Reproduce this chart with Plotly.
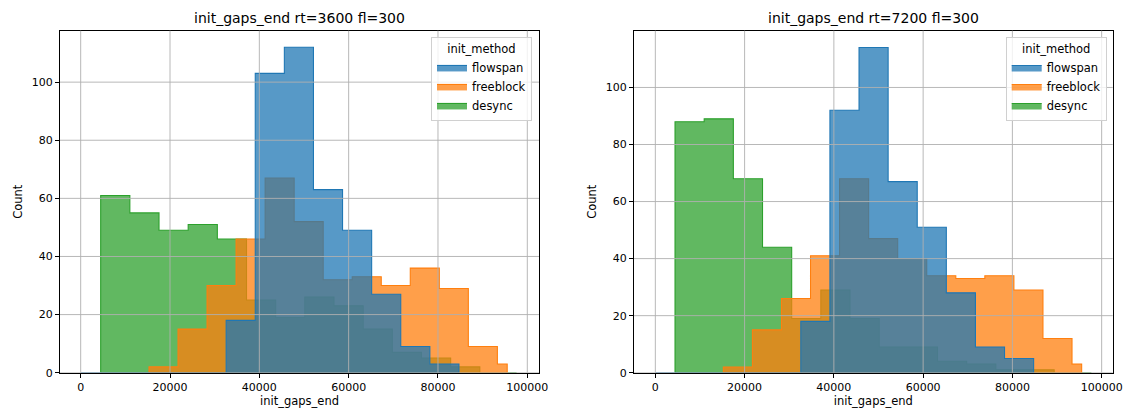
import plotly.graph_objects as go

# ---- histogram bins (left edges + final right edge) and counts per init_method ----
# rt=3600 fl=300
flowspan_3600_edges = [0, 6515, 13030, 19545, 26060, 32575, 39090, 45605, 52120,
                       58635, 65150, 71665, 78180, 84695]
flowspan_3600_counts = [0, 0, 0, 0, 0, 18, 103, 112, 63, 49, 27, 9, 3]

freeblock_3600_edges = [15300, 21800, 28300, 34800, 41300, 47800, 54300, 60800,
                        67300, 73800, 80300, 86800, 93300, 95500]
freeblock_3600_counts = [2, 15, 30, 46, 67, 52, 32, 33, 30, 36, 29, 9, 3]

desync_3600_edges = [4480, 11010, 17540, 24070, 30600, 37130, 43660, 50190, 56720,
                     63250, 69780, 76310, 82840, 89370, 95900, 97600]
desync_3600_counts = [61, 55, 49, 51, 46, 25, 19, 26, 23, 15, 7, 5, 2, 0, 0]

# rt=7200 fl=300
flowspan_7200_edges = [0, 6520, 13040, 19560, 26080, 32600, 39120, 45640, 52160,
                       58680, 65200, 71720, 78240, 84760]
flowspan_7200_counts = [0, 0, 0, 0, 0, 18, 92, 114, 67, 51, 28, 9, 5]

freeblock_7200_edges = [15240, 21750, 28260, 34770, 41280, 47790, 54300, 60810,
                        67320, 73830, 80340, 86850, 93360, 95520]
freeblock_7200_counts = [2, 15, 26, 41, 68, 47, 40, 34, 33, 34, 29, 12, 3]

desync_7200_edges = [4410, 10945, 17480, 24015, 30550, 37085, 43620, 50155, 56690,
                     63225, 69760, 76295, 82830, 89365, 95900, 97700]
desync_7200_counts = [88, 89, 68, 44, 19, 29, 19, 9, 9, 4, 3, 1, 1, 0, 0]

methods = ["flowspan", "freeblock", "desync"]
colors = {"flowspan": (31, 119, 180), "freeblock": (255, 127, 14), "desync": (44, 160, 44)}

panels = [
    {"title": "init_gaps_end rt=3600 fl=300",
     "data": {"flowspan": (flowspan_3600_edges, flowspan_3600_counts),
              "freeblock": (freeblock_3600_edges, freeblock_3600_counts),
              "desync": (desync_3600_edges, desync_3600_counts)}},
    {"title": "init_gaps_end rt=7200 fl=300",
     "data": {"flowspan": (flowspan_7200_edges, flowspan_7200_counts),
              "freeblock": (freeblock_7200_edges, freeblock_7200_counts),
              "desync": (desync_7200_edges, desync_7200_counts)}},
]

x_ticks = [0, 20000, 40000, 60000, 80000, 100000]
y_ticks = [0, 20, 40, 60, 80, 100]

W, H = 1129, 412
x_domains = [[60 / W, 539 / W], [634 / W, 1112.7 / W]]
y_domain = [1 - 372.7 / H, 1 - 30.7 / H]
x_ranges = [[-4630, 102620], [-4780, 102475]]
y_ranges = [[0, 117.7], [0, 119.9]]


def step_outline(edges, counts):
    """Closed step polygon of a histogram, including the baseline."""
    xs, ys = [edges[0]], [0]
    for i, c in enumerate(counts):
        xs += [edges[i], edges[i + 1]]
        ys += [c, c]
    xs += [edges[-1], edges[0]]
    ys += [0, 0]
    return xs, ys


fig = go.Figure()
shapes, annotations = [], []
font = "DejaVu Sans"

for p, panel in enumerate(panels):
    xa = "x" if p == 0 else "x2"
    ya = "y" if p == 0 else "y2"
    leg = "legend" if p == 0 else "legend2"
    # draw desync first so flowspan ends up on top
    for rank, m in reversed(list(enumerate(methods))):
        edges, counts = panel["data"][m]
        xs, ys = step_outline(edges, counts)
        r, g, b = colors[m]
        fig.add_trace(go.Scatter(
            x=xs, y=ys, mode="lines", fill="toself",
            fillcolor=f"rgba({r},{g},{b},0.75)",
            line=dict(color=f"rgb({r},{g},{b})", width=1.1),
            name=m, legend=leg, legendrank=rank + 1,
            xaxis=xa, yaxis=ya, hoverinfo="skip",
        ))

    # grid drawn over the filled steps
    for xv in x_ticks:
        shapes.append(dict(type="line", xref=xa, yref=f"{ya} domain",
                           x0=xv, x1=xv, y0=0, y1=1, layer="above",
                           line=dict(color="#b0b0b0", width=0.9)))
    for yv in y_ticks:
        shapes.append(dict(type="line", xref=f"{xa} domain", yref=ya,
                           x0=0, x1=1, y0=yv, y1=yv, layer="above",
                           line=dict(color="#b0b0b0", width=0.9)))

    cx = (x_domains[p][0] + x_domains[p][1]) / 2
    annotations.append(dict(text=panel["title"], xref="paper", yref="paper",
                            x=cx, y=1 - 18 / H, xanchor="center", yanchor="middle",
                            showarrow=False, font=dict(family=font, size=14, color="black")))

axis_common = dict(showline=True, mirror=True, linecolor="black", linewidth=0.9,
                   ticks="outside", ticklen=4, tickwidth=0.9, tickcolor="black",
                   showgrid=False, zeroline=False, automargin=False,
                   tickfont=dict(family=font, size=11, color="black"))

layout = dict(
    width=W, height=H, margin=dict(l=0, r=0, t=0, b=0, autoexpand=False),
    plot_bgcolor="white", paper_bgcolor="white",
    shapes=shapes, annotations=annotations, showlegend=True,
)
for p in range(2):
    sx = "" if p == 0 else "2"
    layout[f"xaxis{sx}"] = dict(
        domain=x_domains[p], range=x_ranges[p], anchor=f"y{sx}",
        tickvals=x_ticks, ticktext=[str(v) for v in x_ticks],
        title=dict(text="init_gaps_end", font=dict(family=font, size=11.5, color="black"),
                   standoff=4),
        **axis_common)
    layout[f"yaxis{sx}"] = dict(
        domain=y_domain, range=y_ranges[p], anchor=f"x{sx}",
        tickvals=y_ticks,
        title=dict(text="Count", font=dict(family=font, size=11.5, color="black"),
                   standoff=6),
        **axis_common)

legend_style = dict(
    title=dict(text="init_method", font=dict(family=font, size=11.5, color="black"),
               side="top center"),
    font=dict(family=font, size=11.5, color="black"),
    bgcolor="rgba(255,255,255,0.8)", bordercolor="#d0d0d0", borderwidth=1,
    xanchor="right", yanchor="top", tracegroupgap=0, itemwidth=30,
)
layout["legend"] = dict(x=532 / W, y=1 - 37 / H, **legend_style)
layout["legend2"] = dict(x=1106.7 / W, y=1 - 37 / H, **legend_style)

fig.update_layout(**layout)
fig.write_html("out.html")
